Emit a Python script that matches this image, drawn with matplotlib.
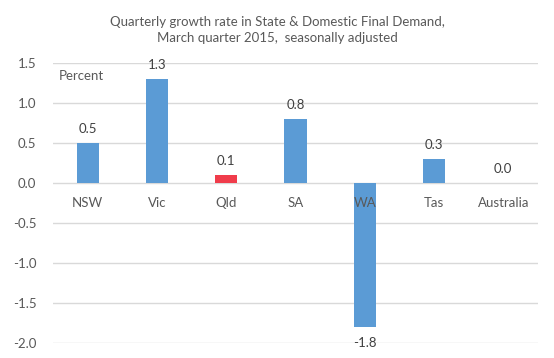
import matplotlib
matplotlib.use("Agg")
import matplotlib.pyplot as plt

states = ["NSW", "Vic", "Qld", "SA", "WA", "Tas", "Australia"]
growth = [0.5, 1.3, 0.1, 0.8, -1.8, 0.3, 0.0]
labels = ["0.5", "1.3", "0.1", "0.8", "-1.8", "0.3", "0.0"]

BLUE = "#5B9BD5"; RED = "#F03C4B"; GREY = "#595959"; GRID = "#D9D9D9"
colors = [RED if s == "Qld" else BLUE for s in states]

plt.rcParams["font.family"] = ["Lato", "DejaVu Sans"]

fig = plt.figure(figsize=(5.54, 3.58), dpi=100)
ax = fig.add_axes([0.0957, 0.0419, 0.8753, 0.7821])

xs = range(len(states))
ax.bar(xs, growth, 0.32, color=colors, zorder=2)
ax.set_xlim(-0.5, len(states) - 0.5)
ax.set_ylim(-2.0, 1.5)
ax.set_yticks([1.5, 1.0, 0.5, 0.0, -0.5, -1.0, -1.5, -2.0])
ax.set_yticklabels([f"{v:.1f}" for v in ax.get_yticks()])
ax.tick_params(axis="y", length=0, pad=12, labelsize=9.5, labelcolor=GREY)
ax.set_xticks([])
for s in ax.spines.values():
    s.set_visible(False)
ax.grid(axis="y", color=GRID, linewidth=1, zorder=0)

for x, v, t, st in zip(xs, growth, labels, states):
    off = -16 if v < 0 else 14
    ax.annotate(t, (x, v), xytext=(0, off), textcoords="offset pixels",
                ha="center", va="center", fontsize=9.5, color="#404040")
    ax.annotate(st, (x, 0), xytext=(0, -20), textcoords="offset pixels",
                ha="center", va="center", fontsize=9.5, color=GREY, zorder=3)

ax.text(0.012, 0.954, "Percent", transform=ax.transAxes, ha="left", va="center",
        fontsize=9.5, color=GREY)

fig.text(0.5, 0.955, "Quarterly growth rate in State & Domestic Final Demand,\n"
         "March quarter 2015,  seasonally adjusted",
         ha="center", va="top", fontsize=9.5, color=GREY, linespacing=1.35)

fig.savefig("out.png", dpi=100, facecolor="white")
